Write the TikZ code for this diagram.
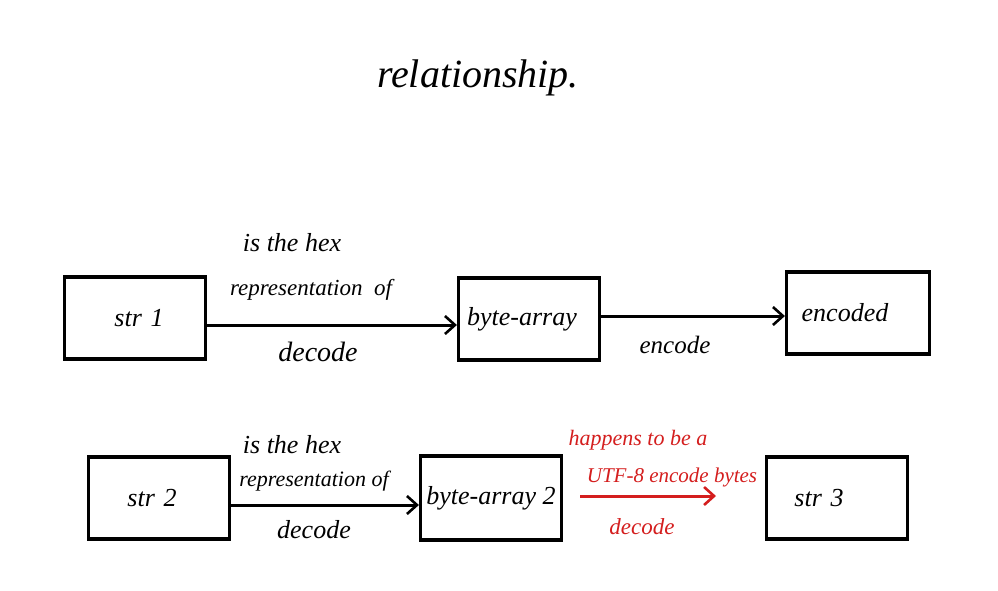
\documentclass[tikz,border=0pt]{standalone}
\usepackage{fontspec}
\setmainfont{Liberation Serif}
\usetikzlibrary{arrows.meta}
\definecolor{inkred}{HTML}{D41E1E}
\tikzset{
  box/.style={draw=black, line width=3.2pt, minimum width=141pt, minimum height=82pt, inner sep=0pt, font=\itshape\fontsize{26}{30}\selectfont},
  conn/.style={line width=3pt, -{Straight Barb[length=10pt,width=18pt,line width=2.6pt]}},
  lbl/.style={font=\itshape\fontsize{26}{30}\selectfont, inner sep=0pt},
  rlbl/.style={font=\itshape\fontsize{22}{26}\selectfont, inner sep=0pt, text=inkred},
}
\begin{document}
\begin{tikzpicture}[x=1pt,y=-1pt]
\useasboundingbox (0,0) rectangle (998,590);
\node[font=\itshape\fontsize{40}{44}\selectfont] (title) at (478,78) {relationship.};

\node[box] (s1) at (135,318) {\kern8pt str\,\,1};
\node[box] (b1) at (529,319) {byte-array\kern14pt\null};
\node[box, minimum width=143pt] (enc) at (858,313) {encoded\kern26pt\null};

\node[box] (s2) at (159,498) {str\,\,2\kern14pt\null};
\node[box, minimum height=84pt] (b2) at (491,498) {byte-array 2};
\node[box] (s3) at (837,498) {str\,\,3\kern36pt\null};

\draw[conn] (s1.east |- 0,325) -- (b1.west |- 0,325);
\draw[conn] (b1.east |- 0,316) -- (enc.west |- 0,316);
\draw[conn] (s2.east |- 0,505) -- (b2.west |- 0,505);
\coordinate (r1) at (580,496);
\coordinate (r2) at (716,496);
\draw[conn, draw=inkred] (r1) -- (r2);

\node[lbl] (l1a) at (292,243) {is the hex};
\node[lbl, font=\itshape\fontsize{23}{27}\selectfont] (l1b) at (311,290) {representation\ \ of};
\node[lbl, font=\itshape\fontsize{28}{32}\selectfont] (l1c) at (318,352) {decode};
\node[lbl, font=\itshape\fontsize{25}{29}\selectfont] (l2) at (675,345) {encode};

\node[lbl] (l3a) at (292,445) {is the hex};
\node[lbl, font=\itshape\fontsize{22}{26}\selectfont] (l3b) at (314,481) {representation of};
\node[lbl] (l3c) at (314,530) {decode};

\node[rlbl] (r3a) at (638,440) {happens to be a};
\node[rlbl, font=\itshape\fontsize{21}{25}\selectfont] (r3b) at (672,477) {UTF-8 encode bytes};
\node[rlbl, font=\itshape\fontsize{23}{27}\selectfont] (r3c) at (642,527) {decode};
\end{tikzpicture}
\end{document}
